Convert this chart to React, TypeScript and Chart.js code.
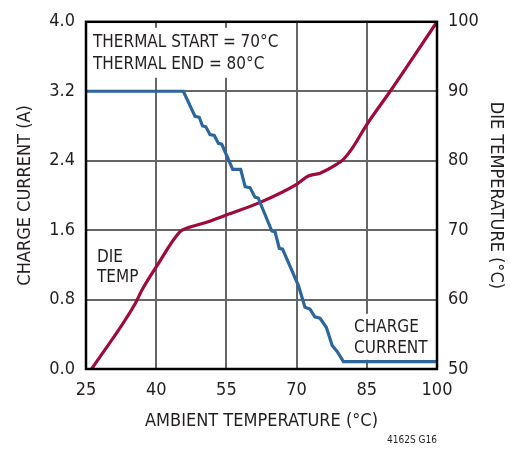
import { useEffect, useRef } from 'react';
import { Chart, registerables } from 'chart.js';

Chart.register(...registerables);

const FONT = "'Liberation Sans Narrow', 'DejaVu Sans Condensed', 'Arial Narrow', sans-serif";
const TEXT = '#231f20';

// Charge current (A) vs ambient temperature (°C)
const currentTemps = [25, 45.8, 48.3, 49.2, 49.9, 50.6, 51.5, 52.4, 53.3, 54.0, 56.35, 58.05, 59.0, 60.05, 61.1, 61.8, 64.7, 65.4, 66.3, 67.0, 70.0, 70.4, 71.8, 72.85, 73.9, 75.0, 76.35, 77.6, 78.7, 80.0, 100];
const currentValues = [3.2, 3.2, 2.91, 2.9, 2.8, 2.79, 2.7, 2.69, 2.6, 2.59, 2.3, 2.3, 2.1, 2.09, 1.98, 1.97, 1.59, 1.58, 1.39, 1.38, 1.01, 0.96, 0.71, 0.69, 0.6, 0.585, 0.48, 0.27, 0.2, 0.085, 0.085];

// Die temperature (°C) vs ambient temperature (°C)
const dieTemps = [26.2, 35.5, 36.9, 40.1, 45.1, 46.2, 51.1, 55.1, 62.2, 70.0, 72.5, 75.0, 78.6, 80.0, 81.8, 85.0, 90.0, 100];
const dieValues = [50, 59.4, 61.3, 64.8, 69.8, 70.2, 71.2, 72.2, 74.0, 76.6, 77.8, 78.2, 79.5, 80.2, 81.7, 85.2, 90.0, 100];

const xTicks = [25, 40, 55, 70, 85, 100];
const leftTicks = [0, 0.8, 1.6, 2.4, 3.2, 4.0];
const rightTicks = [50, 60, 70, 80, 90, 100];

const annotationLines = ['THERMAL START = 70°C', 'THERMAL END = 80°C'];
const dieLabel = ['DIE', 'TEMP'];
const currentLabel = ['CHARGE', 'CURRENT'];
const xTitle = 'AMBIENT TEMPERATURE (°C)';
const leftTitle = 'CHARGE CURRENT (A)';
const rightTitle = 'DIE TEMPERATURE (°C)';
const footnote = '4162S G16';

export default function App() {
  const ref = useRef<HTMLCanvasElement>(null);

  useEffect(() => {
    const canvas = ref.current!;
    const overlay = {
      id: 'overlay',
      beforeDatasetsDraw(chart: any) {
        const { ctx, chartArea: a } = chart;
        ctx.save();
        ctx.fillStyle = '#ffffff';
        ctx.fillRect(a.left + 2, a.top + 6, 194, 50);
        ctx.fillRect(a.left + 264, a.top + 292, 84, 46);
        ctx.fillStyle = TEXT;
        ctx.font = `17px ${FONT}`;
        ctx.textAlign = 'left';
        ctx.textBaseline = 'alphabetic';
        ctx.fillText(annotationLines[0], a.left + 7, a.top + 25);
        ctx.fillText(annotationLines[1], a.left + 7, a.top + 47);
        ctx.fillText(dieLabel[0], a.left + 11, a.top + 240);
        ctx.fillText(dieLabel[1], a.left + 11, a.top + 260);
        ctx.fillText(currentLabel[0], a.left + 268, a.top + 310);
        ctx.fillText(currentLabel[1], a.left + 268, a.top + 331);
        ctx.restore();
      },
      afterDatasetsDraw(chart: any) {
        const { ctx, chartArea: a } = chart;
        ctx.save();
        ctx.strokeStyle = '#000';
        ctx.lineWidth = 2.5;
        ctx.strokeRect(a.left, a.top, a.right - a.left, a.bottom - a.top);
        ctx.fillStyle = TEXT;
        ctx.font = `10px ${FONT}`;
        ctx.textAlign = 'right';
        ctx.textBaseline = 'middle';
        ctx.fillText(footnote, a.right, 440);
        ctx.restore();
      },
    };

    const chart = new Chart(canvas, {
      type: 'line',
      data: {
        datasets: [
          {
            label: 'Charge Current',
            data: currentTemps.map((t, i) => ({ x: t, y: currentValues[i] })),
            borderColor: '#2d669b',
            borderWidth: 3.2,
            pointRadius: 0,
            tension: 0,
            yAxisID: 'y',
          },
          {
            label: 'Die Temp',
            data: dieTemps.map((t, i) => ({ x: t, y: dieValues[i] })),
            borderColor: '#9e0a3c',
            borderWidth: 3.2,
            pointRadius: 0,
            cubicInterpolationMode: 'monotone',
            yAxisID: 'y1',
          },
        ],
      },
      options: {
        responsive: false,
        animation: false,
        layout: { padding: { top: 18, left: 0, right: 0, bottom: 0 } },
        plugins: { legend: { display: false }, tooltip: { enabled: false } },
        scales: {
          x: {
            type: 'linear',
            min: 25,
            max: 100,
            afterBuildTicks: (s: any) => { s.ticks = xTicks.map((v) => ({ value: v })); },
            afterFit: (s: any) => { s.height = 81; },
            ticks: { color: TEXT, font: { family: FONT, size: 18 }, padding: 11 },
            grid: { color: '#666', lineWidth: 2, drawTicks: false },
            border: { display: false },
            title: { display: true, text: xTitle, color: TEXT, font: { family: FONT, size: 18 }, padding: { top: 0, bottom: 18 } },
          },
          y: {
            position: 'left',
            min: 0,
            max: 4,
            afterBuildTicks: (s: any) => { s.ticks = leftTicks.map((v) => ({ value: v })); },
            afterFit: (s: any) => { s.width = 86; },
            ticks: { color: TEXT, font: { family: FONT, size: 18 }, padding: 11, callback: (v: any) => Number(v).toFixed(1) },
            grid: { color: '#666', lineWidth: 2, drawTicks: false },
            border: { display: false },
            title: { display: true, text: leftTitle, color: TEXT, font: { family: FONT, size: 18 }, padding: { top: 15, bottom: 0 } },
          },
          y1: {
            position: 'right',
            min: 50,
            max: 100,
            afterBuildTicks: (s: any) => { s.ticks = rightTicks.map((v) => ({ value: v })); },
            afterFit: (s: any) => { s.width = 73; },
            ticks: { color: TEXT, font: { family: FONT, size: 18 }, padding: 11 },
            grid: { display: false, drawTicks: false },
            border: { display: false },
            title: { display: true, text: rightTitle, color: TEXT, font: { family: FONT, size: 18 }, padding: { top: 4, bottom: 0 } },
          },
        },
      },
      plugins: [overlay],
    } as any);

    return () => chart.destroy();
  }, []);

  return (
    <div style={{ position: 'fixed', left: 0, top: 0, width: 510, height: 450, background: '#fff' }}>
      <canvas ref={ref} width={510} height={450} />
    </div>
  );
}
